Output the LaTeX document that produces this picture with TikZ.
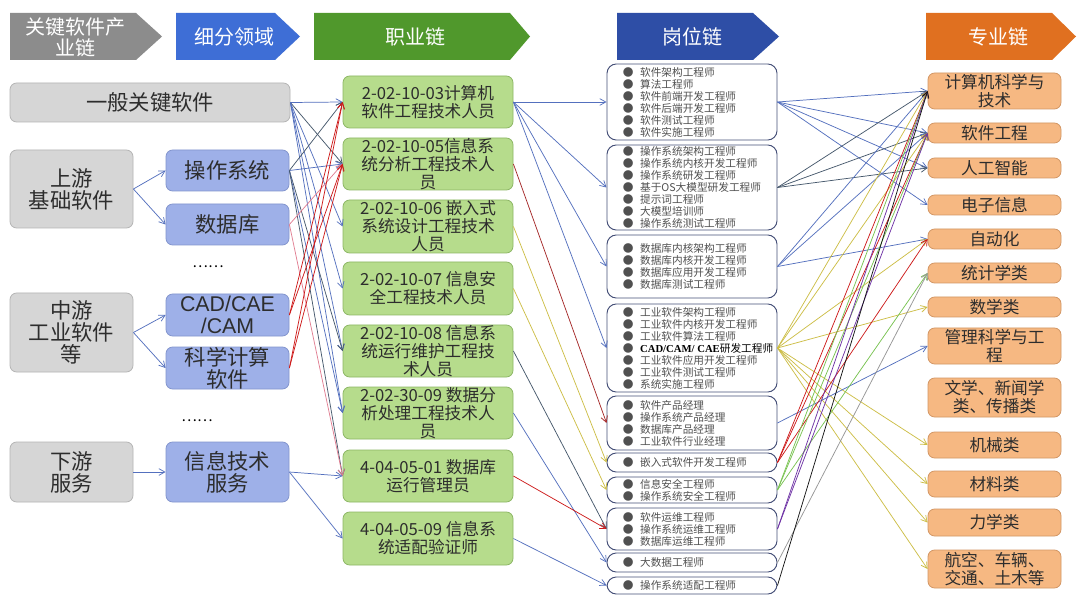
\documentclass[tikz,border=0pt]{standalone}
\usepackage{fontspec}
\setmainfont{Noto Sans CJK SC}
\newfontfamily\lsans{Liberation Sans}
\newfontfamily\lserif{Liberation Serif}
\usetikzlibrary{arrows.meta}
\definecolor{hgray}{RGB}{140,140,140}
\definecolor{hblue}{RGB}{62,110,214}
\definecolor{hgreen}{RGB}{80,152,44}
\definecolor{hdblue}{RGB}{46,78,166}
\definecolor{horange}{RGB}{224,112,32}
\definecolor{grayfill}{RGB}{214,214,214}
\definecolor{grayedge}{RGB}{180,180,180}
\definecolor{bluefill}{RGB}{158,176,232}
\definecolor{blueedge}{RGB}{130,148,205}
\definecolor{greenfill}{RGB}{182,220,140}
\definecolor{greenedge}{RGB}{140,182,100}
\definecolor{orfill}{RGB}{246,184,130}
\definecolor{oredge}{RGB}{210,150,100}
\definecolor{jobedge}{RGB}{70,80,120}
\definecolor{jobtext}{RGB}{80,80,80}
\definecolor{txtdark}{RGB}{45,45,45}
\definecolor{cb}{RGB}{84,112,190}
\definecolor{cs}{RGB}{70,88,108}
\definecolor{cr}{RGB}{205,25,25}
\definecolor{cdr}{RGB}{165,40,40}
\definecolor{cp}{RGB}{225,125,145}
\definecolor{cy}{RGB}{205,190,70}
\definecolor{cg}{RGB}{120,195,80}
\definecolor{cpu}{RGB}{110,50,165}
\definecolor{cgr}{RGB}{150,150,150}
\definecolor{ck}{RGB}{20,20,20}
\newcommand\jbul{●\hspace{5pt}}
\begin{document}
\begin{tikzpicture}[x=0.75pt,y=-0.75pt,
  sz/.style 2 args={minimum width=#1*0.75pt, minimum height=#2*0.75pt},
  basebox/.style={rounded corners=5pt, line width=0.6pt, align=center, inner sep=0pt},
  graybox/.style={basebox, draw=grayedge, fill=grayfill, text=txtdark, font=\fontsize{16}{16.5}\selectfont},
  bluebox/.style={basebox, draw=blueedge, fill=bluefill, text=txtdark, font=\fontsize{16}{16.5}\selectfont},
  greenbox/.style={basebox, draw=greenedge, fill=greenfill, text=txtdark, font=\fontsize{12.5}{13.5}\selectfont},
  jobbox/.style={basebox, rounded corners=7pt, draw=jobedge, fill=white, line width=0.7pt},
  jobtxt/.style={align=left, inner sep=0pt, text=jobtext, font=\fontsize{8}{9}\selectfont, anchor=west},
  orbox/.style={basebox, draw=oredge, fill=orfill, text=txtdark, font=\fontsize{12.5}{13.5}\selectfont},
  htxt/.style={text=white, align=center, inner sep=0pt, font=\fontsize{15}{16}\selectfont},
  dotstxt/.style={inner sep=0pt, font=\fontsize{11}{12}\selectfont, text=black},
  con/.style={line width=0.55pt, -{Straight Barb[length=4.5pt,width=5pt]}}
]
\useasboundingbox (0,0) rectangle (1078,595);
\fill[white] (0,0) rectangle (1078,595);

% headers
\fill[hgray]  (10,13) -- (136,13) -- (162,36.5) -- (136,60) -- (10,60) -- cycle;
\fill[hblue]  (176,13) -- (275,13) -- (300,36.5) -- (275,60) -- (176,60) -- cycle;
\fill[hgreen] (314,13) -- (510,13) -- (530,36.5) -- (510,60) -- (314,60) -- cycle;
\fill[hdblue] (617,13) -- (753,13) -- (779,36.5) -- (753,60) -- (617,60) -- cycle;
\fill[horange] (926,13) -- (1052,13) -- (1076,36.5) -- (1052,60) -- (926,60) -- cycle;
\node[htxt] (h1) at (76,37) {关键软件产\\业链};
\node[htxt] (h2) at (234,37) {细分领域};
\node[htxt] (h3) at (415,37) {职业链};
\node[htxt] (h4) at (692,37) {岗位链};
\node[htxt] (h5) at (998,37) {专业链};

% left column
\node[graybox, sz={280}{39}] (gen) at (150,102.5) {一般关键软件};
\node[graybox, sz={123}{78}] (up) at (71.5,189) {上游\\基础软件};
\node[graybox, sz={123}{79}] (mid) at (71.5,332.5) {中游\\工业软件\\等};
\node[graybox, sz={123}{60}] (down) at (71.5,472) {下游\\服务};
\node[bluebox, sz={123}{41}] (os) at (227.5,170.5) {操作系统};
\node[bluebox, sz={123}{41}] (db) at (227.5,224.5) {数据库};
\node[bluebox, sz={123}{42}] (cad) at (227.5,315) {\lsans CAD/CAE\\\lsans /CAM};
\node[bluebox, sz={123}{42}] (sci) at (227.5,368) {科学计算\\软件};
\node[bluebox, sz={123}{60}] (its) at (227.5,472) {信息技术\\服务};
\node[dotstxt] (dots1) at (208,267) {……};
\node[dotstxt] (dots2) at (197,421) {……};

\draw[con, draw=cb] (up.east) -- (os.west);
\draw[con, draw=cb] (up.east) -- (db.west);
\draw[con, draw=cb] (mid.east) -- (cad.west);
\draw[con, draw=cb] (mid.east) -- (sci.west);
\draw[con, draw=cb] (down.east) -- (its.west);

% green column
\node[greenbox, sz={170}{52}] (G1) at (428,102) {2-02-10-03计算机\\软件工程技术人员};
\node[greenbox, sz={170}{52}] (G2) at (428,164) {2-02-10-05信息系\\统分析工程技术人\\员};
\node[greenbox, sz={170}{53}] (G3) at (428,226.5) {2-02-10-06 嵌入式\\系统设计工程技术\\人员};
\node[greenbox, sz={170}{53}] (G4) at (428,288.5) {2-02-10-07 信息安\\全工程技术人员};
\node[greenbox, sz={170}{52}] (G5) at (428,351) {2-02-10-08 信息系\\统运行维护工程技\\术人员};
\node[greenbox, sz={170}{52}] (G6) at (428,413) {2-02-30-09 数据分\\析处理工程技术人\\员};
\node[greenbox, sz={170}{52}] (G7) at (428,476) {4-04-05-01 数据库\\运行管理员};
\node[greenbox, sz={170}{53}] (G8) at (428,538.5) {4-04-05-09 信息系\\统适配验证师};

% job column
\node[jobbox, sz={170}{76}] (J1) at (692,102) {};
\node[jobbox, sz={170}{85}] (J2) at (692,187.5) {};
\node[jobbox, sz={170}{63}] (J3) at (692,266.5) {};
\node[jobbox, sz={170}{88}] (J4) at (692,348) {};
\node[jobbox, sz={170}{54}] (J5) at (692,423) {};
\node[jobbox, sz={170}{19}] (J6) at (692,462.5) {};
\node[jobbox, sz={170}{26}] (J7) at (692,490) {};
\node[jobbox, sz={170}{42}] (J8) at (692,529) {};
\node[jobbox, sz={170}{19}] (J9) at (692,562.5) {};
\node[jobbox, sz={170}{17}] (J10) at (692,585.5) {};
\node[jobtxt] (J1t) at ([xshift=12pt]J1.west) {\jbul 软件架构工程师\\\jbul 算法工程师\\\jbul 软件前端开发工程师\\\jbul 软件后端开发工程师\\\jbul 软件测试工程师\\\jbul 软件实施工程师};
\node[jobtxt] (J2t) at ([xshift=12pt]J2.west) {\jbul 操作系统架构工程师\\\jbul 操作系统内核开发工程师\\\jbul 操作系统研发工程师\\\jbul 基于OS大模型研发工程师\\\jbul 提示词工程师\\\jbul 大模型培训师\\\jbul 操作系统测试工程师};
\node[jobtxt] (J3t) at ([xshift=12pt]J3.west) {\jbul 数据库内核架构工程师\\\jbul 数据库内核开发工程师\\\jbul 数据库应用开发工程师\\\jbul 数据库测试工程师};
\node[jobtxt] (J4t) at ([xshift=12pt]J4.west) {\jbul 工业软件架构工程师\\\jbul 工业软件内核开发工程师\\\jbul 工业软件算法工程师\\\jbul {\color{black}\lserif\bfseries CAD/CAM/ CAE}{\color{black}研发工程师}\\\jbul 工业软件应用开发工程师\\\jbul 工业软件测试工程师\\\jbul 系统实施工程师};
\node[jobtxt] (J5t) at ([xshift=12pt]J5.west) {\jbul 软件产品经理\\\jbul 操作系统产品经理\\\jbul 数据库产品经理\\\jbul 工业软件行业经理};
\node[jobtxt] (J6t) at ([xshift=12pt]J6.west) {\jbul 嵌入式软件开发工程师};
\node[jobtxt] (J7t) at ([xshift=12pt]J7.west) {\jbul 信息安全工程师\\\jbul 操作系统安全工程师};
\node[jobtxt] (J8t) at ([xshift=12pt]J8.west) {\jbul 软件运维工程师\\\jbul 操作系统运维工程师\\\jbul 数据库运维工程师};
\node[jobtxt] (J9t) at ([xshift=12pt]J9.west) {\jbul 大数据工程师};
\node[jobtxt] (J10t) at ([xshift=12pt]J10.west) {\jbul 操作系统适配工程师};

% orange column
\node[orbox, sz={133}{36}] (O1) at (994.5,91) {计算机科学与\\技术};
\node[orbox, sz={133}{20}] (O2) at (994.5,133) {软件工程};
\node[orbox, sz={133}{20}] (O3) at (994.5,168) {人工智能};
\node[orbox, sz={133}{20}] (O4) at (994.5,205) {电子信息};
\node[orbox, sz={133}{20}] (O5) at (994.5,239) {自动化};
\node[orbox, sz={133}{20}] (O6) at (994.5,273) {统计学类};
\node[orbox, sz={133}{20}] (O7) at (994.5,307) {数学类};
\node[orbox, sz={133}{36}] (O8) at (994.5,346) {管理科学与工\\程};
\node[orbox, sz={133}{39}] (O9) at (994.5,397.5) {文学、新闻学\\类、传播类};
\node[orbox, sz={133}{26}] (O10) at (994.5,445) {机械类};
\node[orbox, sz={133}{26}] (O11) at (994.5,484) {材料类};
\node[orbox, sz={133}{27}] (O12) at (994.5,522.5) {力学类};
\node[orbox, sz={133}{38}] (O13) at (994.5,569) {航空、车辆、\\交通、土木等};

% left connectors
\foreach \s/\t/\c in {gen/G1/cb, gen/G2/cs, gen/G3/cb, gen/G4/cb, gen/G5/cb, gen/G6/cb,
  os/G1/cs, os/G2/cb, os/G5/cs, os/G6/cb, os/G7/cs,
  db/G2/cp, db/G7/cp,
  cad/G1/cr, cad/G2/cr, sci/G1/cr, sci/G2/cr,
  its/G7/cb, its/G8/cb}
  {\draw[con, draw=\c] (\s.east) -- (\t.west);}

% middle connectors
\foreach \s/\t/\c in {G1/J1/cb, G1/J2/cb, G1/J3/cb, G1/J4/cb,
  G2/J5/cdr, G3/J6/cy, G4/J7/cy, G5/J8/cs, G6/J9/cb, G7/J8/cr, G8/J10/cb}
  {\draw[con, draw=\c] (\s.east) -- (\t.west);}

% right connectors
\foreach \s/\t/\c in {J1/O1/cb, J1/O2/cb, J1/O3/cb, J1/O4/cb,
  J2/O1/cs, J2/O2/cs, J2/O3/cs,
  J3/O1/cb, J3/O2/cb, J3/O5/cb,
  J4/O1/cy, J4/O2/cy, J4/O5/cy, J4/O7/cy, J4/O10/cy, J4/O11/cy, J4/O12/cy, J4/O13/cy,
  J5/O8/cb,
  J6/O1/cr, J6/O2/cr, J6/O5/cr,
  J7/O1/cg, J7/O2/cg, J7/O6/cg,
  J8/O1/cpu, J8/O2/cpu,
  J9/O6/cgr, J10/O1/ck}
  {\draw[con, draw=\c] (\s.east) -- (\t.west);}
\end{tikzpicture}
\end{document}
